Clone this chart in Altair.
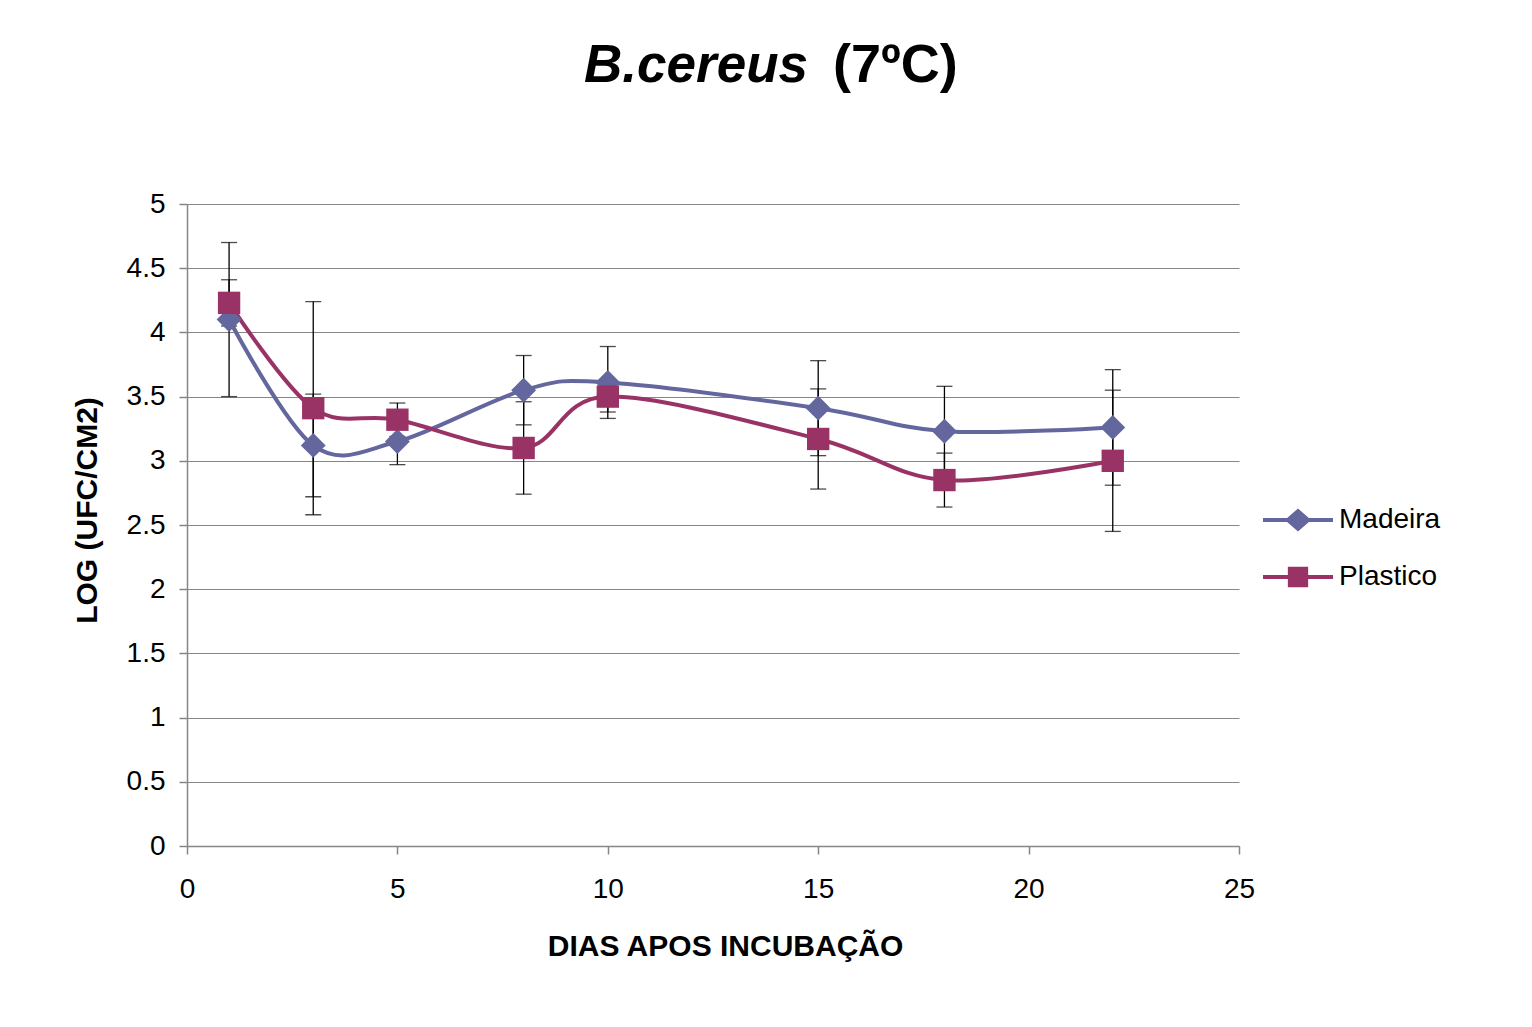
import altair as alt
import pandas as pd

# ---- data ----
dias = [1, 3, 5, 8, 10, 15, 18, 22]
madeira = [4.10, 3.12, 3.15, 3.55, 3.61, 3.41, 3.23, 3.26]
madeira_err = [0.60, 0.40, 0.18, 0.27, 0.28, 0.37, 0.35, 0.45]
plastico = [4.23, 3.41, 3.32, 3.10, 3.50, 3.17, 2.85, 3.00]
plastico_err = [0.18, 0.83, 0.13, 0.36, 0.12, 0.39, 0.21, 0.55]
series = ["Madeira", "Plastico"]
colors = ["#64669E", "#993366"]
shapes = ["diamond", "square"]
marker_sizes = [620, 500]
y_ticks = [0, 0.5, 1, 1.5, 2, 2.5, 3, 3.5, 4, 4.5, 5]
x_ticks = [0, 5, 10, 15, 20, 25]

rows = []
for name, vals, errs in [("Madeira", madeira, madeira_err), ("Plastico", plastico, plastico_err)]:
    for d, v, e in zip(dias, vals, errs):
        rows.append({"dia": d, "valor": v, "serie": name, "lo": v - e, "hi": v + e})
df = pd.DataFrame(rows)

FONT = "Liberation Sans"
W, H = 1052, 642

xenc = alt.X("dia:Q", scale=alt.Scale(domain=[0, 25], nice=False),
             axis=alt.Axis(values=x_ticks, format="d", grid=False, labelFlush=False,
                           title="DIAS APOS INCUBAÇÃO",
                           titleX=538, titleY=109, titleBaseline="alphabetic",
                           titleAnchor="middle"))
yenc = alt.Y("valor:Q", scale=alt.Scale(domain=[0, 5], nice=False),
             axis=alt.Axis(values=y_ticks, format="~g", grid=True, labelFlush=False,
                           title="LOG (UFC/CM2)",
                           titleX=-91, titleY=306, titleBaseline="alphabetic",
                           titleAngle=270))

base = alt.Chart(df)
layers = []

# smoothed series lines (one layer per series, fixed colour)
for name, col in zip(series, colors):
    layers.append(base.transform_filter(alt.datum.serie == name).mark_line(
        interpolate="cardinal", strokeWidth=4, color=col).encode(x=xenc, y=yenc))

# error bars
layers.append(base.mark_rule(color="black", strokeWidth=1.3).encode(
    x="dia:Q", y="lo:Q", y2="hi:Q"))
layers.append(base.mark_tick(color="black", thickness=1.3, size=16, orient="horizontal").encode(
    x="dia:Q", y="lo:Q"))
layers.append(base.mark_tick(color="black", thickness=1.3, size=16, orient="horizontal").encode(
    x="dia:Q", y="hi:Q"))

# markers
for name, col, shp, sz in zip(series, colors, shapes, marker_sizes):
    layers.append(base.transform_filter(alt.datum.serie == name).mark_point(
        shape=shp, size=sz, filled=True, opacity=1, color=col).encode(
        x="dia:Q", y="valor:Q"))

# legend (line + marker symbols), driven by an invisible clipped layer
path_m = "M-1,-0.06L-0.31,-0.06L0,-0.33L0.31,-0.06L1,-0.06L1,0.06L0.31,0.06L0,0.33L-0.31,0.06L-1,0.06Z"
path_p = "M-1,-0.06L-0.29,-0.06L-0.29,-0.29L0.29,-0.29L0.29,-0.06L1,-0.06L1,0.06L0.29,0.06L0.29,0.29L-0.29,0.29L-0.29,0.06L-1,0.06Z"
legend = alt.Legend(title=None, orient="none", legendX=1076, legendY=281,
                    symbolSize=4900, labelFontSize=28, labelFont=FONT,
                    labelColor="black", labelOffset=6, rowPadding=8,
                    symbolStrokeWidth=0, symbolOpacity=1)
layers.append(base.mark_point(clip=True, filled=True, opacity=1).encode(
    x=alt.value(-2000), y=alt.value(-2000),
    color=alt.Color("serie:N", scale=alt.Scale(domain=series, range=colors), legend=legend),
    shape=alt.Shape("serie:N", scale=alt.Scale(domain=series, range=[path_m, path_p]),
                    legend=legend),
))

# title: italic species name + bold temperature
layers.append(alt.Chart(pd.DataFrame({"t": ["B.cereus"]})).mark_text(
    font=FONT, fontSize=53, fontWeight="bold", fontStyle="italic",
    align="right", baseline="alphabetic", color="black").encode(
    text="t:N", x=alt.value(621), y=alt.value(-122)))
layers.append(alt.Chart(pd.DataFrame({"t": ["(7ºC)"]})).mark_text(
    font=FONT, fontSize=54, fontWeight="bold",
    align="left", baseline="alphabetic", color="black").encode(
    text="t:N", x=alt.value(646), y=alt.value(-122)))

chart = alt.layer(*layers).properties(
    width=W, height=H,
    autosize=alt.AutoSizeParams(type="none"),
    padding={"left": 179, "top": 196, "right": 285, "bottom": 170},
    background="white",
).configure_view(stroke=None).configure_axis(
    labelFont=FONT, labelFontSize=28, labelColor="black",
    titleFont=FONT, titleFontSize=30, titleFontWeight="bold", titleColor="black",
    domainColor="#868686", tickColor="#868686", gridColor="#868686",
    domainWidth=1.5, tickWidth=1.5, gridWidth=1, tickSize=8,
).configure_axisY(labelPadding=14).configure_axisX(labelPadding=21)

chart.save("out.html", embed_options={"renderer": "svg", "actions": False})
